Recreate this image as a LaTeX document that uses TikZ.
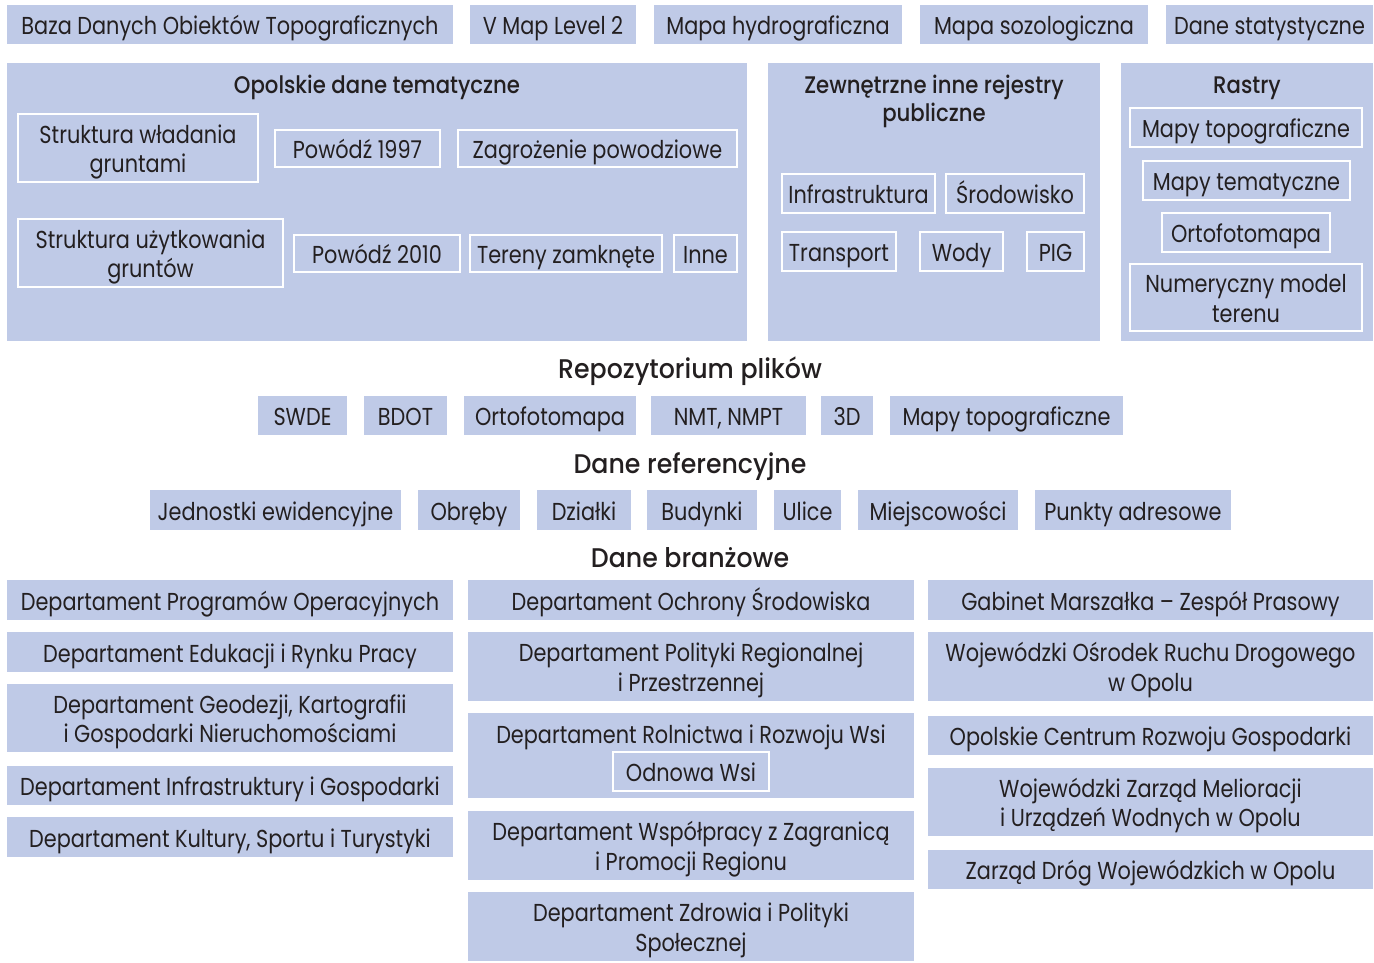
\documentclass[tikz,border=0pt]{standalone}
\usepackage{fontspec}
\setmainfont[FakeStretch=0.85]{Poppins}
\newfontfamily\medfont[FakeStretch=0.885]{Poppins Medium}
\newfontfamily\headfont[FakeStretch=0.935]{Poppins Medium}
\definecolor{bfill}{HTML}{BFCAE7}
\definecolor{tcol}{HTML}{231F20}
\newcommand{\bx}[7][box]{%
  \pgfmathsetmacro\cxx{(#3+#5)/2}%
  \pgfmathsetmacro\cyy{(#4+#6)/2}%
  \pgfmathsetmacro\ww{#5-#3}%
  \pgfmathsetmacro\hh{#6-#4}%
  \node[#1, minimum width=\ww pt, minimum height=\hh pt] (#2) at (\cxx,\cyy) {#7};}
\tikzset{
  box/.style={fill=bfill, inner sep=0pt, outer sep=0pt, align=center, text=tcol,
    font=\fontsize{24.5}{29.5}\selectfont, text height=21pt, text depth=1pt},
  two/.style={text height=50.5pt, text depth=1pt},
  ibox/.style={box, draw=white, line width=2.5pt},
  panel/.style={fill=bfill, inner sep=0pt, outer sep=0pt},
  ttl/.style={inner sep=0pt, align=center, text=tcol, font=\fontsize{24}{28.4}\medfont,
    anchor=south, text depth=0pt},
  bigttl/.style={inner sep=0pt, align=center, text=tcol, font=\fontsize{27}{30}\headfont,
    anchor=south, text depth=0pt},
}
\begin{document}
\begin{tikzpicture}[x=1pt,y=-1pt]
\useasboundingbox (0,0) rectangle (1374,963);
% top row
\bx{bdot}{7}{5}{453}{44}{Baza Danych Obiektów Topograficznych}
\bx{vmap}{470}{5}{636}{44}{V Map Level 2}
\bx{hydro}{654}{5}{902}{44}{Mapa hydrograficzna}
\bx{sozo}{920}{5}{1148}{44}{Mapa sozologiczna}
\bx{stat}{1166}{5}{1373}{44}{Dane statystyczne}
% panels
\bx[panel]{popol}{7}{63}{747}{341}{}
\bx[panel]{pzew}{768}{63}{1100}{341}{}
\bx[panel]{pras}{1121}{63}{1373}{341}{}
\node[ttl] (topol) at (377,93.3) {Opolskie dane tematyczne};
\node[ttl] (tzew) at (934,121.7) {Zewnętrzne inne rejestry\\publiczne};
\node[ttl] (tras) at (1247,93.3) {Rastry};
% opolskie inner
\bx[ibox,two]{swl}{18}{114}{258}{182}{Struktura władania\\gruntami}
\bx[ibox]{p97}{275}{130}{440}{167}{Powódź 1997}
\bx[ibox]{zag}{458}{130}{737}{167}{Zagrożenie powodziowe}
\bx[ibox,two]{suz}{18}{219}{283}{287}{Struktura użytkowania\\gruntów}
\bx[ibox]{p10}{294}{235}{460}{272}{Powódź 2010}
\bx[ibox]{ter}{470}{235}{662}{272}{Tereny zamknęte}
\bx[ibox]{inne}{674}{235}{737}{272}{Inne}
% zewnetrzne inner
\bx[ibox]{infra}{782}{174}{935}{213}{Infrastruktura}
\bx[ibox]{srod}{946}{174}{1084}{213}{Środowisko}
\bx[ibox]{trans}{782}{232}{896}{271}{Transport}
\bx[ibox]{wody}{920}{232}{1003}{271}{Wody}
\bx[ibox]{pig}{1027}{232}{1084}{271}{PIG}
% rastry inner
\bx[ibox]{rtopo}{1130}{108}{1362}{147}{Mapy topograficzne}
\bx[ibox]{rtem}{1143}{161}{1350}{200}{Mapy tematyczne}
\bx[ibox]{rorto}{1162}{213}{1330}{252}{Ortofotomapa}
\bx[ibox,two]{rnmt}{1130}{264}{1362}{331}{Numeryczny model\\terenu}
% repozytorium
\node[bigttl] (trep) at (690,378.3) {Repozytorium plików};
\bx{swde}{258}{396}{347}{435}{SWDE}
\bx{bdotr}{364}{396}{447}{435}{BDOT}
\bx{orto}{464}{396}{636}{435}{Ortofotomapa}
\bx{nmt}{651}{396}{806}{435}{NMT, NMPT}
\bx{d3}{821}{396}{873}{435}{3D}
\bx{mtopo}{890}{396}{1123}{435}{Mapy topograficzne}
% referencyjne
\node[bigttl] (tref) at (690,474) {Dane referencyjne};
\bx{jedn}{150}{490}{401}{530}{Jednostki ewidencyjne}
\bx{obr}{418}{490}{520}{530}{Obręby}
\bx{dzi}{537}{490}{631}{530}{Działki}
\bx{bud}{647}{490}{757}{530}{Budynki}
\bx{uli}{774}{490}{841}{530}{Ulice}
\bx{mie}{858}{490}{1018}{530}{Miejscowości}
\bx{pun}{1035}{490}{1231}{530}{Punkty adresowe}
% branzowe
\node[bigttl] (tbra) at (690,567.3) {Dane branżowe};
\bx{dpo}{7}{580}{453}{620}{Departament Programów Operacyjnych}
\bx{der}{7}{632}{453}{672}{Departament Edukacji i Rynku Pracy}
\bx[box,two]{dgk}{7}{684}{453}{752}{Departament Geodezji, Kartografii\\i Gospodarki Nieruchomościami}
\bx{dig}{7}{766}{453}{805}{Departament Infrastruktury i Gospodarki}
\bx{dks}{7}{817}{453}{857}{Departament Kultury, Sportu i Turystyki}
\bx{dos}{468}{580}{914}{620}{Departament Ochrony Środowiska}
\bx[box,two]{dpr}{468}{632}{914}{701}{Departament Polityki Regionalnej\\i Przestrzennej}
\bx[panel]{drr}{468}{713}{914}{798}{}
\node[inner sep=0pt, text=tcol, font=\fontsize{24.5}{29.5}\selectfont, anchor=south, text depth=0pt] (drrt) at (691,744) {Departament Rolnictwa i Rozwoju Wsi};
\bx[ibox]{odn}{613}{752}{769}{791}{Odnowa Wsi}
\bx[box,two]{dwz}{468}{811}{914}{880}{Departament Współpracy z Zagranicą\\i Promocji Regionu}
\bx[box,two]{dzp}{468}{892}{914}{961}{Departament Zdrowia i Polityki\\Społecznej}
\bx{gab}{928}{580}{1373}{620}{Gabinet Marszałka – Zespół Prasowy}
\bx[box,two]{word}{928}{632}{1373}{701}{Wojewódzki Ośrodek Ruchu Drogowego\\w Opolu}
\bx{ocrg}{928}{716}{1373}{755}{Opolskie Centrum Rozwoju Gospodarki}
\bx[box,two]{wzm}{928}{768}{1373}{836}{Wojewódzki Zarząd Melioracji\\i Urządzeń Wodnych w Opolu}
\bx{zdw}{928}{850}{1373}{889}{Zarząd Dróg Wojewódzkich w Opolu}
\end{tikzpicture}
\end{document}
